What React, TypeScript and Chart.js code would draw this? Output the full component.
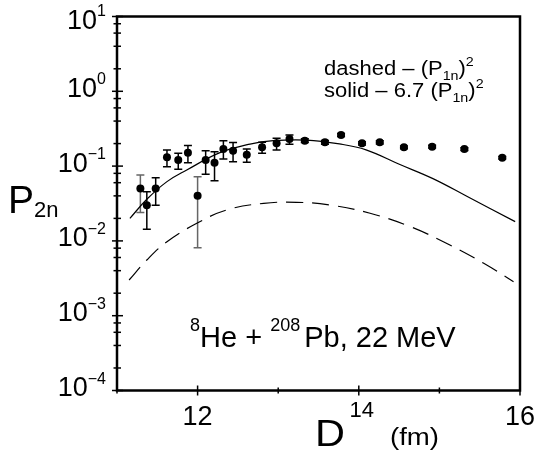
import React, { useEffect, useRef } from "react";
import { Chart, registerables } from "chart.js";

Chart.register(...registerables);

// ---- data ----
const pointX = [11.29, 11.37, 11.48, 11.62, 11.76, 11.88, 12.0, 12.1, 12.21, 12.32, 12.44, 12.61, 12.8, 12.98, 13.14, 13.33, 13.58, 13.78, 14.04, 14.26, 14.56, 14.91, 15.31, 15.78];
const pointY = [0.05, 0.03, 0.05, 0.131, 0.121, 0.151, 0.04, 0.121, 0.111, 0.169, 0.161, 0.142, 0.178, 0.202, 0.23, 0.219, 0.208, 0.26, 0.202, 0.208, 0.178, 0.182, 0.169, 0.129];
const errHigh = [0.076, 0.0455, 0.07, 0.164, 0.148, 0.188, 0.072, 0.161, 0.156, 0.219, 0.206, 0.169, 0.208, 0.236, 0.26, 0.232, 0.22, 0.272, 0.212, 0.218, 0.186, 0.19, 0.176, 0.134];
const errLow = [0.024, 0.0143, 0.03, 0.098, 0.0906, 0.111, 0.0081, 0.0777, 0.0638, 0.1245, 0.1146, 0.1125, 0.148, 0.164, 0.1955, 0.206, 0.196, 0.249, 0.192, 0.198, 0.17, 0.174, 0.162, 0.124];
const grayBars = [0, 6];

const dashedX = [11.15, 11.37, 11.62, 11.99, 12.36, 12.82, 13.23, 13.64, 14.14, 14.64, 15.13, 15.55, 15.92];
const dashedY = [0.003, 0.00556, 0.00976, 0.0172, 0.0259, 0.0318, 0.0328, 0.0302, 0.0234, 0.0155, 0.0088, 0.00502, 0.00285];

const solidX = [11.16, 11.37, 11.62, 11.86, 12.27, 12.65, 12.94, 13.35, 13.76, 14.09, 14.51, 14.92, 15.34, 15.94];
const solidY = [0.02, 0.036, 0.062, 0.088, 0.15, 0.197, 0.219, 0.223, 0.198, 0.165, 0.105, 0.068, 0.0395, 0.0181];

const xMajorTicks = [12, 14, 16];
const xMinorTicks = [11, 13, 15];
const yExponents = [1, 0, -1, -2, -3, -4];
const yMinorMantissas = [2, 4, 6, 8];

const FAM = '"Liberation Sans", Arial, Helvetica, sans-serif';

type Run = { text: string; size: number; dy?: number; gap?: number };

function drawRuns(
  ctx: CanvasRenderingContext2D,
  x: number,
  y: number,
  runs: Run[],
  align: "left" | "right" | "center" = "left",
  sx = 1
) {
  const widths = runs.map((r) => {
    ctx.font = `${r.size}px ${FAM}`;
    return ctx.measureText(r.text).width * sx + (r.gap || 0);
  });
  const total = widths.reduce((a, b) => a + b, 0);
  let cx = align === "right" ? x - total : align === "center" ? x - total / 2 : x;
  ctx.textAlign = "left";
  ctx.textBaseline = "alphabetic";
  runs.forEach((r, i) => {
    ctx.font = `${r.size}px ${FAM}`;
    ctx.save();
    ctx.translate(cx, y + (r.dy || 0));
    ctx.scale(sx, 1);
    ctx.fillText(r.text, 0, 0);
    ctx.restore();
    cx += widths[i];
  });
}

const decor = {
  id: "decor",
  beforeDatasetsDraw(chart: any) {
    const ctx: CanvasRenderingContext2D = chart.ctx;
    const xs = chart.scales.x;
    const ys = chart.scales.y;
    ctx.save();
    ctx.lineWidth = 1.5;
    pointX.forEach((xv, i) => {
      const px = xs.getPixelForValue(xv);
      const top = ys.getPixelForValue(errHigh[i]);
      const bot = ys.getPixelForValue(errLow[i]);
      ctx.strokeStyle = grayBars.includes(i) ? "#666" : "#000";
      ctx.beginPath();
      ctx.moveTo(px, top);
      ctx.lineTo(px, bot);
      ctx.moveTo(px - 4, top);
      ctx.lineTo(px + 4, top);
      ctx.moveTo(px - 4, bot);
      ctx.lineTo(px + 4, bot);
      ctx.stroke();
    });
    ctx.restore();
  },
  afterDraw(chart: any) {
    const ctx: CanvasRenderingContext2D = chart.ctx;
    const xs = chart.scales.x;
    const ys = chart.scales.y;
    const { left, right, top, bottom } = chart.chartArea;
    ctx.save();
    ctx.strokeStyle = "#000";
    ctx.fillStyle = "#000";
    // frame
    ctx.lineWidth = 2.5;
    ctx.beginPath();
    ctx.moveTo(left, top);
    ctx.lineTo(right, top);
    ctx.lineTo(right, bottom);
    ctx.lineTo(left, bottom);
    ctx.closePath();
    ctx.stroke();
    // y ticks
    ctx.lineWidth = 1.5;
    yExponents.forEach((e) => {
      const py = ys.getPixelForValue(Math.pow(10, e));
      ctx.beginPath();
      ctx.moveTo(left - 5, py);
      ctx.lineTo(left + 6, py);
      ctx.stroke();
      if (e < 1) {
        yMinorMantissas.forEach((m) => {
          const pm = ys.getPixelForValue(m * Math.pow(10, e));
          ctx.beginPath();
          ctx.moveTo(left - 3.5, pm);
          ctx.lineTo(left + 4, pm);
          ctx.stroke();
        });
      }
      const exp = e < 0 ? "\u2212" + String(-e) : String(e);
      const base = e === 1 ? py + 12 : py + 5.5;
      drawRuns(ctx, 106, base, [
        { text: "10", size: 27 },
        { text: exp, size: 16, dy: -12.5 },
      ], "right");
    });
    // x ticks
    xMajorTicks.forEach((v) => {
      const px = xs.getPixelForValue(v);
      ctx.beginPath();
      ctx.moveTo(px, bottom - 5);
      ctx.lineTo(px, bottom + 5);
      ctx.stroke();
    });
    xMinorTicks.forEach((v) => {
      const px = xs.getPixelForValue(v);
      ctx.beginPath();
      ctx.moveTo(px, bottom - 3);
      ctx.lineTo(px, bottom + 3);
      ctx.stroke();
    });
    drawRuns(ctx, xs.getPixelForValue(12), 425, [{ text: "12", size: 27 }], "center");
    drawRuns(ctx, xs.getPixelForValue(16), 425, [{ text: "16", size: 27 }], "center");
    drawRuns(ctx, xs.getPixelForValue(14) + 3, 416.5, [{ text: "14", size: 22 }], "center");
    // axis titles
    drawRuns(ctx, 315, 446, [{ text: "D", size: 37 }], "left", 1.12);
    drawRuns(ctx, 390, 445, [{ text: "(fm)", size: 23 }], "left", 1.2);
    drawRuns(ctx, 8, 213, [
      { text: "P", size: 39 },
      { text: "2n", size: 22, dy: 3.5 },
    ]);
    // legend text
    drawRuns(ctx, 324, 75, [
      { text: "dashed \u2013 (P", size: 20 },
      { text: "1n", size: 13, dy: 5 },
      { text: ")", size: 20 },
      { text: "2", size: 13, dy: -9.5 },
    ], "left", 1.1);
    drawRuns(ctx, 324, 97, [
      { text: "solid \u2013 6.7 (P", size: 20 },
      { text: "1n", size: 13, dy: 5 },
      { text: ")", size: 20 },
      { text: "2", size: 13, dy: -9.5 },
    ], "left", 1.1);
    // annotation
    drawRuns(ctx, 190, 347, [
      { text: "8", size: 18, dy: -16 },
      { text: "He + ", size: 29 },
      { text: "208", size: 18, dy: -16, gap: 4 },
      { text: "Pb, 22 MeV", size: 29 },
    ]);
    ctx.restore();
  },
};

export default function App() {
  const ref = useRef<HTMLCanvasElement | null>(null);
  useEffect(() => {
    document.body.style.margin = "0";
    const canvas = ref.current;
    if (!canvas) return;
    const chart = new Chart(canvas, {
      type: "scatter",
      data: {
        datasets: [
          {
            type: "line",
            data: solidX.map((x, i) => ({ x, y: solidY[i] })),
            borderColor: "#000",
            borderWidth: 1.2,
            pointRadius: 0,
            tension: 0.4,
            fill: false,
          },
          {
            type: "line",
            data: dashedX.map((x, i) => ({ x, y: dashedY[i] })),
            borderColor: "#000",
            borderWidth: 1.2,
            borderDash: [17, 9],
            pointRadius: 0,
            tension: 0.4,
            fill: false,
          },
          {
            type: "scatter",
            data: pointX.map((x, i) => ({ x, y: pointY[i] })),
            backgroundColor: "#000",
            borderColor: "#000",
            pointRadius: 4,
            borderWidth: 0,
          },
        ] as any,
      },
      options: {
        responsive: false,
        animation: false,
        devicePixelRatio: 1,
        layout: { padding: { left: 117, right: 17, top: 16.5, bottom: 65.5 } },
        plugins: { legend: { display: false }, tooltip: { enabled: false } },
        scales: {
          x: { type: "linear", min: 11, max: 16, display: false },
          y: { type: "logarithmic", min: 1e-4, max: 10, display: false },
        },
      },
      plugins: [decor],
    });
    return () => chart.destroy();
  }, []);
  return (
    <canvas
      ref={ref}
      width={537}
      height={456}
      style={{ display: "block", position: "absolute", left: 0, top: 0, width: 537, height: 456 }}
    />
  );
}
